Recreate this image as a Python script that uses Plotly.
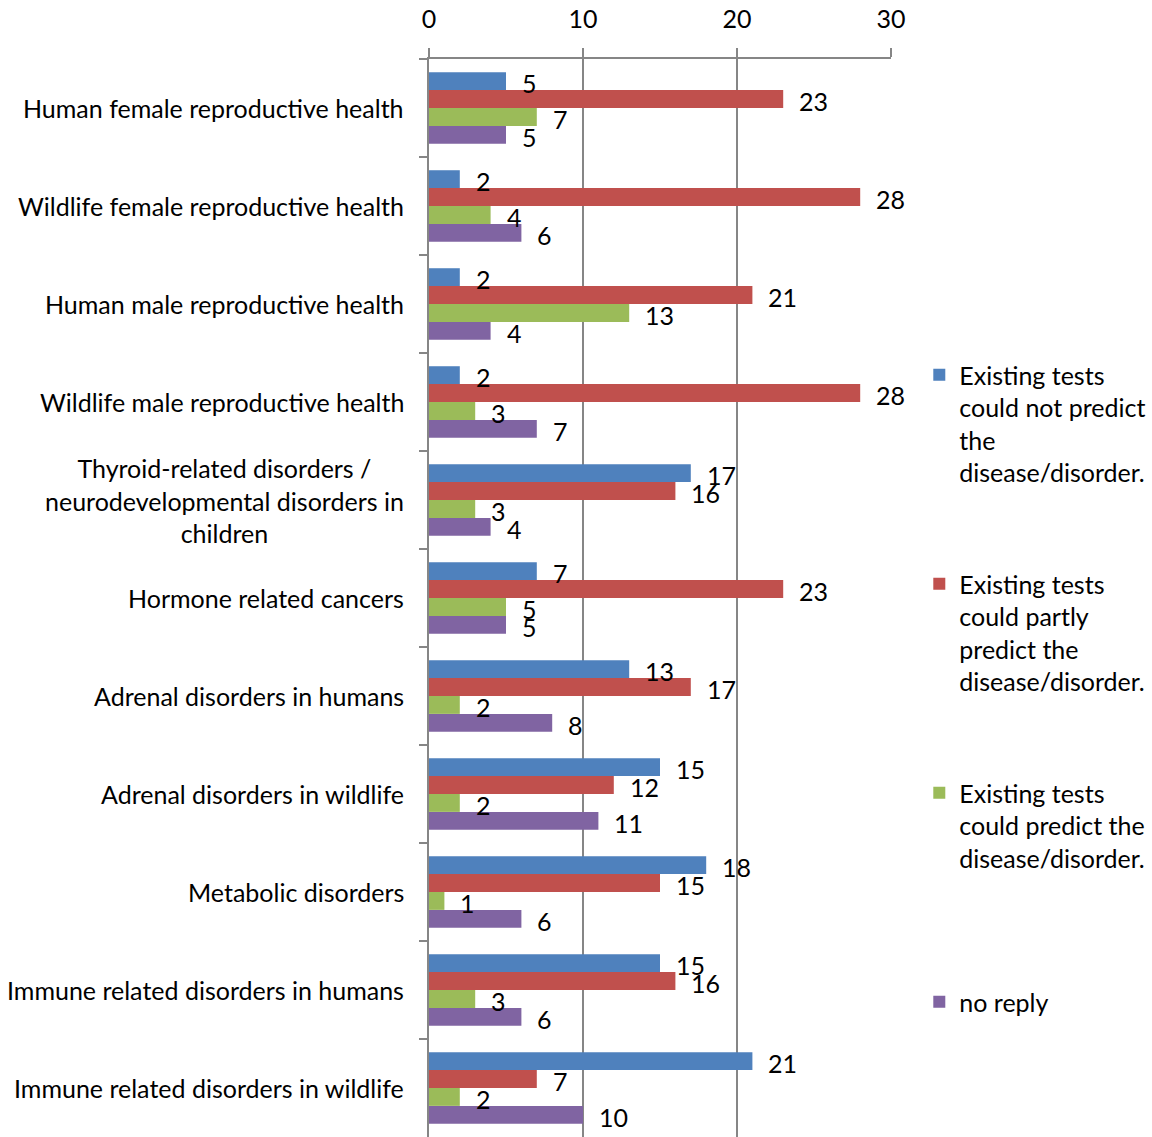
import plotly.graph_objects as go

# Survey results: ability of existing tests to predict each disease/disorder
categories = [
    "Human female reproductive health",
    "Wildlife female reproductive health",
    "Human male reproductive health ",
    "Wildlife male reproductive health",
    "Thyroid-related disorders /<br>neurodevelopmental disorders in<br>children",
    "Hormone related cancers",
    "Adrenal disorders in humans ",
    "Adrenal disorders in wildlife",
    "Metabolic disorders",
    "Immune related disorders in humans",
    "Immune related disorders in wildlife",
]

could_not_predict = [5, 2, 2, 2, 17, 7, 13, 15, 18, 15, 21]
partly_predict = [23, 28, 21, 28, 16, 23, 17, 12, 15, 16, 7]
could_predict = [7, 4, 13, 3, 3, 5, 2, 2, 1, 3, 2]
no_reply = [5, 6, 4, 7, 4, 5, 8, 11, 6, 6, 10]

# legend entries are padded to four lines so the entries sit evenly spaced
series_names = [
    "Existing tests<br>could not predict<br>the<br>disease/disorder.",
    "Existing tests<br>could partly<br>predict the<br>disease/disorder.",
    "Existing tests<br>could predict the<br>disease/disorder.<br>&nbsp;",
    "no reply",
]
series_values = [could_not_predict, partly_predict, could_predict, no_reply]
colors = ["#4F81BD", "#C0504D", "#9BBB59", "#8064A2"]

FONT = "Lato"
FS = 25
GRID = "#868686"

fig = go.Figure()
for i, (name, vals, col) in enumerate(zip(series_names, series_values, colors)):
    fig.add_trace(go.Bar(
        y=categories, x=vals, name=name, orientation="h",
        marker=dict(color=col, line=dict(width=0)),
        legendgroup=f"g{i}",
        hoverinfo="x+y",
    ))

# value labels next to each bar end, shifted to sit beside their bar in the group
label_yshift = [25, 7, -11, -29]
annotations = []
for vals, ys in zip(series_values, label_yshift):
    for cat, v in zip(categories, vals):
        annotations.append(dict(
            x=v, y=cat, xref="x", yref="y", text=str(v), showarrow=False,
            xanchor="left", yanchor="middle", xshift=14, yshift=ys,
            font=dict(family=FONT, size=FS, color="black"),
        ))

# category labels, centred lines, right-aligned against the axis
for cat in categories:
    annotations.append(dict(
        x=0, y=cat, xref="paper", yref="y", text=cat.rstrip(), showarrow=False,
        xanchor="right", yanchor="middle", align="center", xshift=-23,
        font=dict(family=FONT, size=FS, color="black"),
    ))

fig.update_layout(
    width=1152, height=1137,
    margin=dict(l=429, r=261, t=59, b=0, pad=0),
    paper_bgcolor="white", plot_bgcolor="white",
    font=dict(family=FONT, size=FS, color="black"),
    barmode="group", bargap=0.27, bargroupgap=0,
    showlegend=True,
    legend=dict(
        xref="container", yref="container",
        x=0.798, y=1 - 352 / 1137, xanchor="left", yanchor="top",
        valign="top", tracegroupgap=76, traceorder="grouped",
        maxheight=1000,
        font=dict(family=FONT, size=FS, color="black"),
        bgcolor="rgba(0,0,0,0)",
    ),
    annotations=annotations,
)

fig.update_xaxes(
    side="top", range=[0, 30], dtick=10, tick0=0,
    showgrid=True, gridcolor=GRID, gridwidth=2,
    showline=True, linecolor=GRID, linewidth=2,
    ticks="outside", ticklen=9, tickcolor=GRID, tickwidth=2,
    ticklabelstandoff=10, zeroline=False,
    tickfont=dict(family=FONT, size=FS, color="black"),
)
fig.update_yaxes(
    type="category", range=[10.5, -0.5],
    showline=True, linecolor=GRID, linewidth=2,
    ticks="outside", tickson="boundaries", ticklen=8, tickcolor=GRID, tickwidth=2,
    showticklabels=False, showgrid=False, zeroline=False,
)

fig.write_html("out.html")
